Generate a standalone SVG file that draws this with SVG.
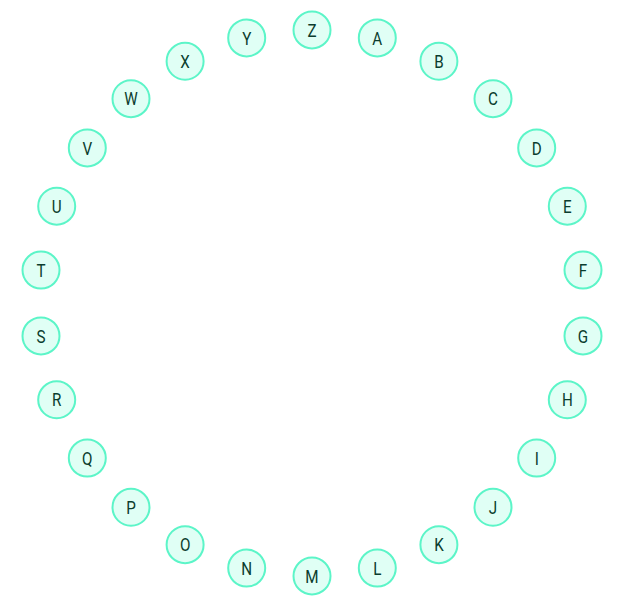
<svg xmlns="http://www.w3.org/2000/svg" width="618" height="606" viewBox="0 0 618 606">
<style>
.n circle{fill:#e0fff5;stroke:#5cf5c8;stroke-width:2}
.n text{font-family:"Roboto","Liberation Sans",sans-serif;font-size:19px;fill:#0b3d2e;text-anchor:middle;dominant-baseline:central;transform:scale(0.8,1)}
</style>
<rect width="618" height="606" fill="#ffffff"/>
<g id="connectors"></g>
<g id="Z" class="n" transform="translate(312,30)"><circle r="18.5"/><text>Z</text></g>
<g id="A" class="n" transform="translate(377.3,37.9)"><circle r="18.5"/><text>A</text></g>
<g id="B" class="n" transform="translate(438.9,61.3)"><circle r="18.5"/><text>B</text></g>
<g id="C" class="n" transform="translate(493,98.7)"><circle r="18.5"/><text>C</text></g>
<g id="D" class="n" transform="translate(536.7,147.9)"><circle r="18.5"/><text>D</text></g>
<g id="E" class="n" transform="translate(567.3,206.2)"><circle r="18.5"/><text>E</text></g>
<g id="F" class="n" transform="translate(583,270.1)"><circle r="18.5"/><text>F</text></g>
<g id="G" class="n" transform="translate(583,335.9)"><circle r="18.5"/><text>G</text></g>
<g id="H" class="n" transform="translate(567.3,399.8)"><circle r="18.5"/><text>H</text></g>
<g id="I" class="n" transform="translate(536.7,458.1)"><circle r="18.5"/><text>I</text></g>
<g id="J" class="n" transform="translate(493,507.3)"><circle r="18.5"/><text>J</text></g>
<g id="K" class="n" transform="translate(438.9,544.7)"><circle r="18.5"/><text>K</text></g>
<g id="L" class="n" transform="translate(377.3,568.1)"><circle r="18.5"/><text>L</text></g>
<g id="M" class="n" transform="translate(312,576)"><circle r="18.5"/><text>M</text></g>
<g id="N" class="n" transform="translate(246.7,568.1)"><circle r="18.5"/><text>N</text></g>
<g id="O" class="n" transform="translate(185.1,544.7)"><circle r="18.5"/><text>O</text></g>
<g id="P" class="n" transform="translate(131,507.3)"><circle r="18.5"/><text>P</text></g>
<g id="Q" class="n" transform="translate(87.3,458.1)"><circle r="18.5"/><text>Q</text></g>
<g id="R" class="n" transform="translate(56.7,399.8)"><circle r="18.5"/><text>R</text></g>
<g id="S" class="n" transform="translate(41,335.9)"><circle r="18.5"/><text>S</text></g>
<g id="T" class="n" transform="translate(41,270.1)"><circle r="18.5"/><text>T</text></g>
<g id="U" class="n" transform="translate(56.7,206.2)"><circle r="18.5"/><text>U</text></g>
<g id="V" class="n" transform="translate(87.3,147.9)"><circle r="18.5"/><text>V</text></g>
<g id="W" class="n" transform="translate(131,98.7)"><circle r="18.5"/><text>W</text></g>
<g id="X" class="n" transform="translate(185.1,61.3)"><circle r="18.5"/><text>X</text></g>
<g id="Y" class="n" transform="translate(246.7,37.9)"><circle r="18.5"/><text>Y</text></g>
</svg>
